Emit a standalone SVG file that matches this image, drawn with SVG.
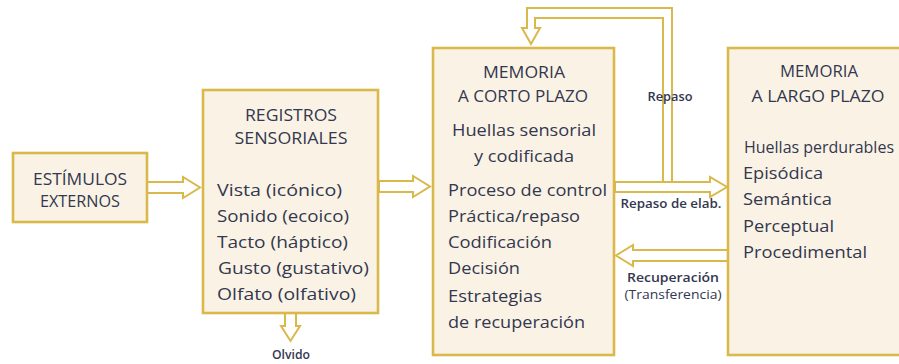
<svg xmlns="http://www.w3.org/2000/svg" width="899" height="364" viewBox="0 0 899 364">
<style>
.box{fill:#faf3e5;stroke:#d9b84c;stroke-width:2.6}
.arr{fill:#ffffff;stroke:#d9b84c;stroke-width:2;stroke-linejoin:miter}
text{font-family:"Open Sans","Liberation Sans",sans-serif;fill:#33374f}
.h{font-size:16px;text-anchor:middle}
.b{font-size:17px}
.l{font-size:13px;text-anchor:middle;font-weight:600}
</style>
<rect width="899" height="364" fill="#ffffff"/>
<g id="connectors">
<polygon class="arr" points="147,182 183,182 183,177 200,187.5 183,198 183,193 147,193"/>
<polygon class="arr" points="379,181 413,181 413,176 430,186.5 413,197 413,192 379,192"/>
<polygon class="arr" points="285,313 285,326 281,326 290.5,341 300,326 296,326 296,313"/>
<path class="arr" d="M663,182 V18 H535 V28 H540 L531,44 L522,28 H527 V8 H672 V182"/>
<polygon class="arr" points="615,182 710,182 710,177 727,187 710,197 710,192 615,192"/>
<polygon class="arr" points="728,250 633,250 633,245 616,255.5 633,266 633,261 728,261"/>
<text class="l" x="670" y="101" textLength="45" lengthAdjust="spacingAndGlyphs">Repaso</text>
<text class="l" x="671" y="208" textLength="101" lengthAdjust="spacingAndGlyphs">Repaso de elab.</text>
<text class="l" x="673" y="282" font-weight="700" textLength="92" lengthAdjust="spacingAndGlyphs">Recuperación</text>
<text class="l" x="673" y="299" style="font-weight:400" textLength="97" lengthAdjust="spacingAndGlyphs">(Transferencia)</text>
<text class="l" x="291" y="359" textLength="38" lengthAdjust="spacingAndGlyphs">Olvido</text>
</g>
<g id="estimulos">
<rect class="box" x="13" y="153" width="134" height="69"/>
<text class="h" x="80" y="185" textLength="94" lengthAdjust="spacingAndGlyphs">ESTÍMULOS</text>
<text class="h" x="80" y="207" textLength="80" lengthAdjust="spacingAndGlyphs">EXTERNOS</text>
</g>
<g id="registros">
<rect class="box" x="203" y="90" width="175" height="223"/>
<text class="h" x="291" y="121" textLength="92" lengthAdjust="spacingAndGlyphs">REGISTROS</text>
<text class="h" x="291" y="144" textLength="113" lengthAdjust="spacingAndGlyphs">SENSORIALES</text>
<text class="b" x="217" y="196" textLength="125" lengthAdjust="spacingAndGlyphs">Vista (icónico)</text>
<text class="b" x="217" y="222" textLength="132" lengthAdjust="spacingAndGlyphs">Sonido (ecoico)</text>
<text class="b" x="217" y="248" textLength="131" lengthAdjust="spacingAndGlyphs">Tacto (háptico)</text>
<text class="b" x="218" y="274" textLength="151" lengthAdjust="spacingAndGlyphs">Gusto (gustativo)</text>
<text class="b" x="217" y="300" textLength="139" lengthAdjust="spacingAndGlyphs">Olfato (olfativo)</text>
</g>
<g id="memoria-corto-plazo">
<rect class="box" x="433" y="48" width="181" height="307"/>
<text class="h" x="524" y="78" textLength="82" lengthAdjust="spacingAndGlyphs">MEMORIA</text>
<text class="h" x="523" y="102" textLength="130" lengthAdjust="spacingAndGlyphs">A CORTO PLAZO</text>
<text class="b" x="524" y="136" text-anchor="middle" textLength="144" lengthAdjust="spacingAndGlyphs">Huellas sensorial</text>
<text class="b" x="524" y="162" text-anchor="middle" textLength="100" lengthAdjust="spacingAndGlyphs">y codificada</text>
<text class="b" x="448" y="196" textLength="159" lengthAdjust="spacingAndGlyphs">Proceso de control</text>
<text class="b" x="448" y="222" textLength="132" lengthAdjust="spacingAndGlyphs">Práctica/repaso</text>
<text class="b" x="448" y="248" textLength="104" lengthAdjust="spacingAndGlyphs">Codificación</text>
<text class="b" x="448" y="274" textLength="72" lengthAdjust="spacingAndGlyphs">Decisión</text>
<text class="b" x="448" y="302" textLength="94" lengthAdjust="spacingAndGlyphs">Estrategias</text>
<text class="b" x="448" y="328" textLength="137" lengthAdjust="spacingAndGlyphs">de recuperación</text>
</g>
<g id="memoria-largo-plazo">
<rect class="box" x="728" y="48" width="200" height="307"/>
<text class="h" x="819" y="77" textLength="78" lengthAdjust="spacingAndGlyphs">MEMORIA</text>
<text class="h" x="818" y="102" textLength="133" lengthAdjust="spacingAndGlyphs">A LARGO PLAZO</text>
<text class="b" x="744" y="153" style="font-size:16px" textLength="150" lengthAdjust="spacingAndGlyphs">Huellas perdurables</text>
<text class="b" x="743" y="179" textLength="80" lengthAdjust="spacingAndGlyphs">Episódica</text>
<text class="b" x="743" y="205" textLength="89" lengthAdjust="spacingAndGlyphs">Semántica</text>
<text class="b" x="743" y="232" textLength="91" lengthAdjust="spacingAndGlyphs">Perceptual</text>
<text class="b" x="743" y="258" textLength="124" lengthAdjust="spacingAndGlyphs">Procedimental</text>
</g>
</svg>
